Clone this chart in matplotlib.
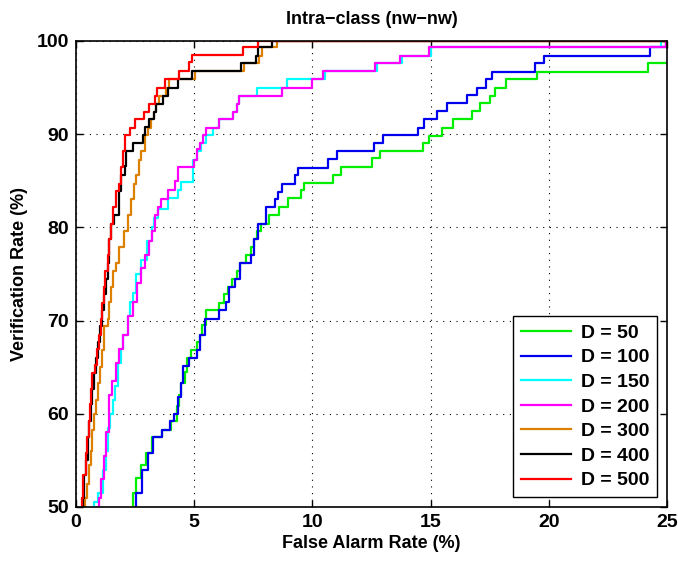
import numpy as np
import matplotlib
matplotlib.use("Agg")
import matplotlib.pyplot as plt

plt.rcParams['font.family'] = ['Liberation Sans', 'DejaVu Sans']
plt.rcParams['font.weight'] = 'bold'

# (false alarm rate where the curve steps up, verification rate after the step)
x_50 = [2.40, 2.55, 2.75, 2.98, 3.20, 3.62, 4.00, 4.26, 4.35, 4.46, 4.60, 4.70, 4.88, 5.10, 5.23, 5.35, 5.52,
        6.07, 6.25, 6.45, 6.60, 6.80, 6.95, 7.20, 7.40, 7.55, 7.65, 7.83, 8.15, 8.60, 8.95, 9.50, 9.65, 10.88,
        11.20, 12.50, 12.86, 14.69, 14.94, 15.47, 15.94, 16.74, 17.09, 17.50, 17.70, 18.19, 19.49, 24.17, 25.0]
y_50 = [51.5, 53.1, 54.5, 55.8, 57.5, 58.3, 59.2, 60.8, 62.0, 63.3, 64.5, 66.0, 66.8, 67.7, 68.5, 69.5, 71.1,
        71.9, 72.8, 73.6, 74.5, 75.3, 76.2, 77.0, 77.9, 78.7, 79.6, 80.4, 81.3, 82.2, 83.1, 84.0, 84.8, 85.6,
        86.5, 87.4, 88.2, 89.0, 89.8, 90.7, 91.6, 92.5, 93.3, 94.1, 95.0, 95.9, 96.7, 97.6, 97.6]

x_100 = [2.54, 2.81, 3.05, 3.27, 3.62, 3.98, 4.15, 4.33, 4.45, 4.52, 4.76, 5.10, 5.23, 5.45, 6.07, 6.35, 6.49,
         6.74, 6.95, 7.40, 7.55, 7.69, 8.04, 8.40, 8.53, 8.70, 9.25, 9.39, 10.67, 11.05, 12.62, 12.97, 14.48,
         14.72, 15.25, 15.68, 16.55, 16.95, 17.34, 17.58, 19.42, 19.80, 24.28, 24.95, 25.0]
y_100 = [51.5, 54.0, 55.8, 57.5, 58.3, 59.2, 60.0, 61.8, 63.3, 65.1, 66.0, 66.8, 68.5, 70.2, 71.1, 72.0, 73.6,
         74.5, 76.2, 77.0, 78.7, 80.4, 82.2, 83.0, 83.8, 84.7, 85.6, 86.4, 87.3, 88.2, 89.0, 89.9, 90.7,
         91.6, 92.5, 93.3, 94.2, 95.0, 95.9, 96.7, 97.6, 98.4, 99.3, 100.0, 100.0]

x_150 = [0.78, 0.92, 1.13, 1.27, 1.35, 1.45, 1.58, 1.66, 1.76, 1.90, 2.00, 2.19, 2.30, 2.40, 2.54, 2.77, 3.00,
         3.20, 3.30, 3.45, 3.88, 4.30, 4.44, 4.95, 5.10, 5.30, 5.50, 5.79, 6.07, 6.64, 6.81, 6.90, 7.64, 8.91,
         10.55, 12.74, 13.80, 15.00, 24.75, 25.0]
y_150 = [50.5, 51.5, 54.0, 56.0, 58.5, 60.0, 61.5, 63.0, 65.5, 67.0, 68.4, 70.5, 72.0, 73.0, 75.0, 76.5, 78.5,
         80.0, 81.0, 82.0, 83.1, 84.0, 84.9, 87.2, 88.2, 89.1, 89.9, 90.7, 91.6, 92.4, 93.2, 94.1, 95.0, 95.9,
         96.8, 97.6, 98.4, 99.3, 100.0, 100.0]

x_200 = [0.96, 1.06, 1.17, 1.27, 1.38, 1.41, 1.52, 1.69, 1.80, 1.97, 2.19, 2.40, 2.60, 2.77, 2.90, 3.10, 3.22,
         3.35, 3.45, 3.60, 3.90, 4.20, 4.30, 5.00, 5.13, 5.24, 5.37, 5.51, 6.07, 6.64, 6.81, 6.90, 8.70, 9.97,
         10.46, 12.65, 13.70, 14.95, 24.96, 25.0]
y_200 = [51.0, 53.0, 55.5, 58.0, 60.0, 62.0, 63.5, 65.5, 67.0, 68.4, 70.5, 72.0, 74.0, 75.6, 77.0, 78.5, 79.6,
         81.3, 82.2, 83.0, 84.0, 85.0, 86.5, 87.2, 88.4, 89.1, 89.9, 90.7, 91.6, 92.4, 93.2, 94.1, 95.0, 95.9,
         96.8, 97.6, 98.4, 99.3, 100.0, 100.0]

x_300 = [0.40, 0.45, 0.54, 0.62, 0.70, 0.78, 0.85, 0.92, 1.00, 1.10, 1.20, 1.35, 1.41, 1.48, 1.55, 1.69, 1.83,
         2.04, 2.19, 2.33, 2.45, 2.54, 2.65, 2.75, 2.94, 3.05, 3.17, 3.30, 3.40, 3.53, 3.80, 3.95, 5.03, 7.10,
         7.75, 7.85, 8.49, 25.0]
y_300 = [51.0, 52.5, 54.5, 56.0, 58.3, 60.0, 61.5, 63.3, 65.0, 66.8, 69.4, 70.2, 72.0, 73.6, 75.3, 76.2, 77.9,
         79.6, 81.3, 83.0, 84.7, 85.6, 87.2, 88.2, 89.9, 90.7, 91.6, 92.4, 93.2, 94.1, 95.0, 95.9, 96.8, 97.6,
         98.4, 99.3, 100.0, 100.0]

x_400 = [0.30, 0.35, 0.42, 0.49, 0.55, 0.62, 0.68, 0.75, 0.85, 0.95, 1.00, 1.10, 1.18, 1.27, 1.35, 1.41, 1.50,
         1.62, 1.83, 1.90, 2.08, 2.10, 2.43, 2.82, 2.90, 3.07, 3.30, 3.40, 3.70, 3.88, 4.30, 4.89, 7.00, 7.61,
         7.71, 8.28, 25.0]
y_400 = [51.0, 53.4, 55.0, 57.5, 59.2, 61.0, 62.7, 64.4, 66.0, 67.7, 69.4, 71.1, 72.8, 74.5, 76.2, 78.7, 80.4,
         81.3, 83.9, 85.6, 86.6, 88.2, 89.0, 89.9, 90.8, 91.6, 92.4, 93.2, 94.1, 95.0, 95.9, 96.8, 97.6, 98.4,
         99.3, 100.0, 100.0]

x_500 = [0.25, 0.31, 0.42, 0.48, 0.54, 0.58, 0.63, 0.70, 0.80, 0.90, 0.96, 1.06, 1.10, 1.20, 1.24, 1.34, 1.41,
         1.48, 1.58, 1.69, 1.80, 1.90, 1.97, 2.00, 2.07, 2.29, 2.50, 2.86, 3.07, 3.36, 3.43, 3.76, 4.35, 4.78,
         4.90, 7.05, 7.68, 25.0]
y_500 = [51.0, 53.4, 55.8, 57.5, 59.2, 61.0, 62.7, 64.4, 65.2, 66.9, 68.5, 70.2, 71.9, 73.6, 75.3, 77.0, 78.7,
         80.4, 82.2, 83.9, 84.7, 86.5, 87.4, 88.2, 89.9, 90.7, 91.6, 92.4, 93.2, 94.1, 95.0, 95.9, 96.8, 97.7,
         98.5, 99.3, 100.0, 100.0]

labels = ['D = 50', 'D = 100', 'D = 150', 'D = 200', 'D = 300', 'D = 400', 'D = 500']
colors = ['#00ee00', '#0000ee', '#00ffff', '#ff00ff', '#dd8000', '#000000', '#ff0000']
curves = [(x_50, y_50), (x_100, y_100), (x_150, y_150), (x_200, y_200),
          (x_300, y_300), (x_400, y_400), (x_500, y_500)]

fig = plt.figure(figsize=(6.78, 5.61), dpi=100)
ax = fig.add_axes([0.112, 0.0963, 0.872, 0.8307])

for (xs, ys), c, lab in zip(curves, colors, labels):
    # start each curve below the visible range so it enters from the bottom edge
    xs = [xs[0]] + list(xs)
    ys = [45.0] + list(ys)
    ax.plot(xs, ys, drawstyle='steps-post', color=c, lw=1.6, label=lab)

ax.set_xlim(0, 25)
ax.set_ylim(50, 100)
ax.set_xticks([0, 5, 10, 15, 20, 25])
ax.set_yticks([50, 60, 70, 80, 90, 100])
ax.grid(True, linestyle=(0, (1, 5)), color='black', lw=0.8)
ax.tick_params(direction='in', top=True, right=True, labelsize=14, length=5, width=1, pad=5)
for s in ax.spines.values():
    s.set_linewidth(1.2)

ax.set_title('Intra\u2212class (nw\u2212nw)', fontsize=13, fontweight='bold', pad=12)
ax.set_xlabel('False Alarm Rate (%)', fontsize=13, fontweight='bold', labelpad=3)
ax.set_ylabel('Verification Rate (%)', fontsize=13, fontweight='bold', labelpad=6)

leg = ax.legend(loc='lower right', prop={'weight': 'bold', 'size': 14},
                fancybox=False, edgecolor='black', framealpha=1, handlelength=2.6,
                borderaxespad=0.5, labelspacing=0.36, handletextpad=0.5, borderpad=0.4)
leg.get_frame().set_linewidth(1.0)

fig.savefig('out.png', dpi=100)
